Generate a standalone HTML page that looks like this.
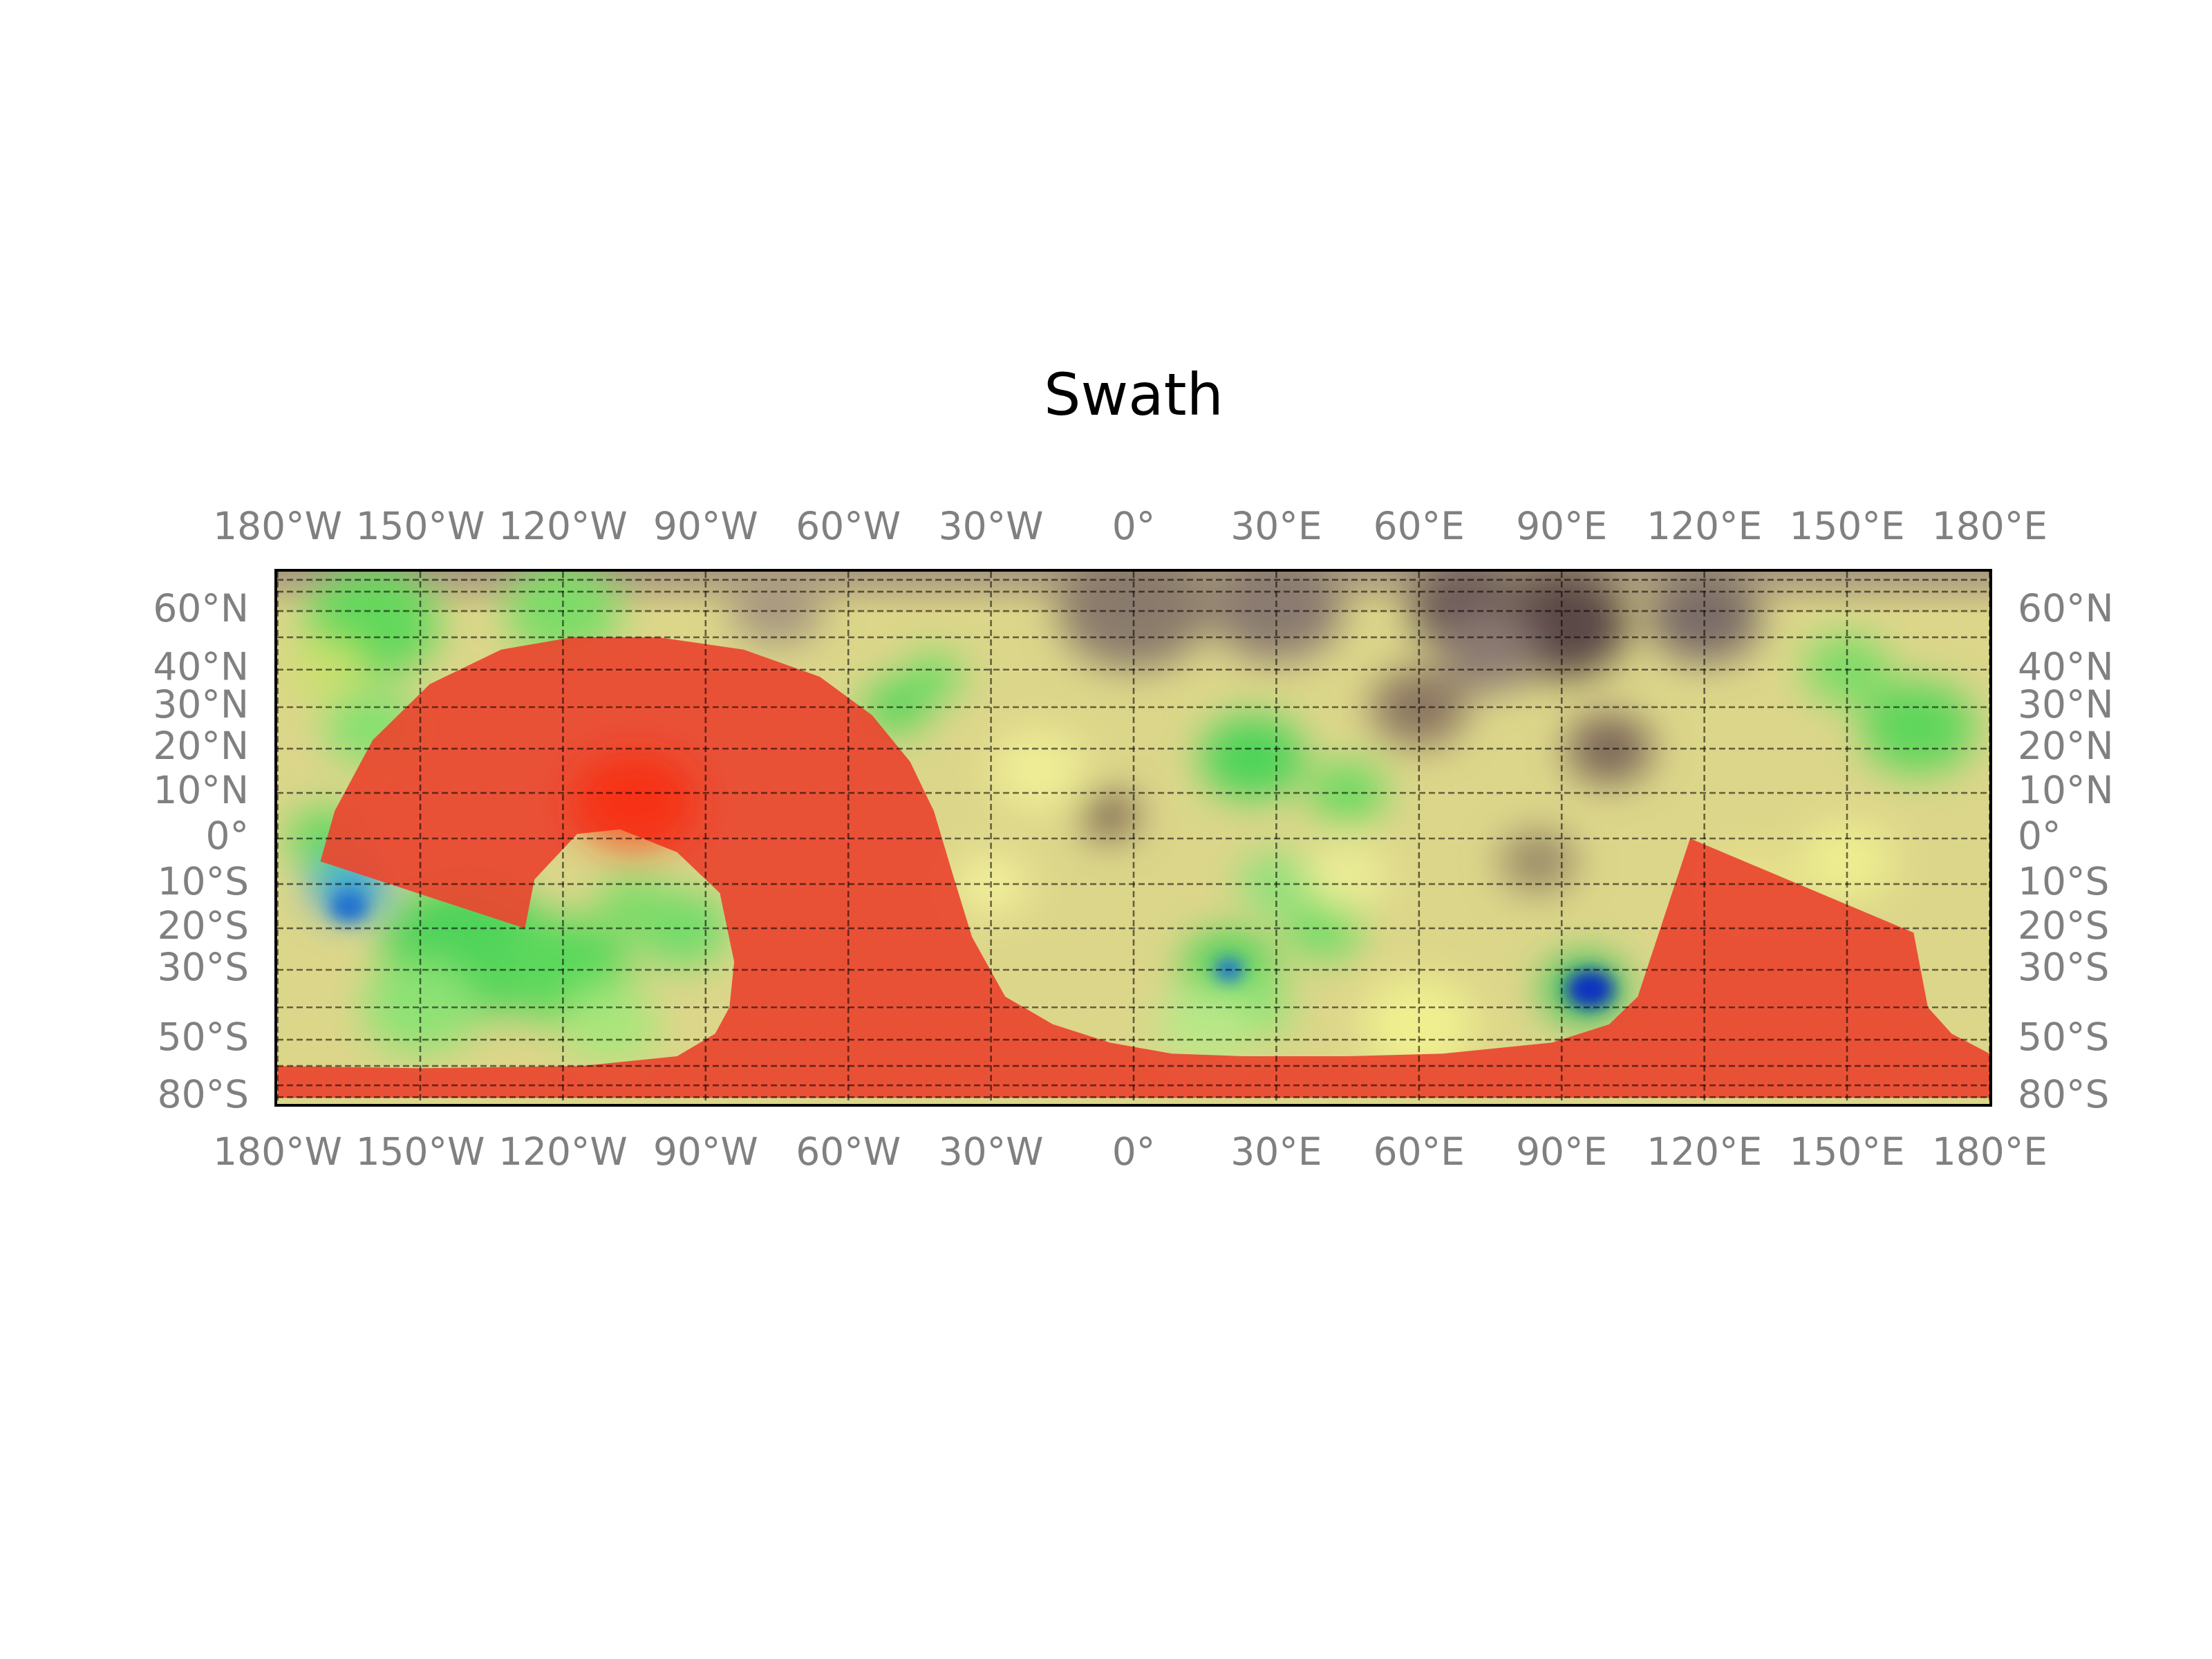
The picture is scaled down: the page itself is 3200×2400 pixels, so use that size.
<!DOCTYPE html>
<html><head><meta charset="utf-8"><style>
html,body{margin:0;padding:0;background:#fff;}
svg{display:block;}
text{font-family:"DejaVu Sans","Liberation Sans",sans-serif;}
</style></head><body>
<svg id="fig" width="3200" height="2400" viewBox="0 0 3200 2400">
<defs>
<clipPath id="plotclip"><rect x="401" y="827" width="2477" height="770"/></clipPath>
<filter id="blur" x="-50%" y="-50%" width="200%" height="200%"><feGaussianBlur stdDeviation="28"/></filter>
<filter id="blur2" x="-50%" y="-50%" width="200%" height="200%"><feGaussianBlur stdDeviation="12"/></filter>
<linearGradient id="northg" x1="0" y1="0" x2="0" y2="1">
<stop offset="0" stop-color="#a89a80"/><stop offset="1" stop-color="#d8cf85"/></linearGradient>
</defs>
<rect width="3200" height="2400" fill="#fff"/>
<text x="1640" y="600" font-size="84" text-anchor="middle" fill="#000">Swath</text>
<g clip-path="url(#plotclip)">
<rect x="401" y="827" width="2477" height="770" fill="#dcd68a"/>
<rect x="401" y="827" width="2477" height="60" fill="url(#northg)"/>
<g id="terrain" filter="url(#blur)"></g>
<g id="terrain2" filter="url(#blur2)"></g>
<g id="swath"></g>
<g id="grid"></g>
</g>
<rect x="399" y="825" width="2481" height="774" fill="none" stroke="#000" stroke-width="4"/>
<g id="labels"></g>
</svg>
<script>
// Swath boundary (lon, lat)
const swathLon = [-180,-180,-150,-116,-96,-88,-85,-84,-87,-96,-108,-117,-126,-128,-171,-168,-160,-148,-133,-118,-100,-82,-66,-55,-47,-42,-38,-34,-27,-17,-5,8,23,45,65,88,100,106,117,164,167,172,180,180];
const swathLat = [-81,-60,-61,-60,-56,-48,-40,-28,-12,-3,2,1,-9,-20,-5,6,22,36,46,50,50,46,38,28,17,6,-8,-22,-37,-45,-51,-55,-56,-56,-55,-51,-45,-37,0,-21,-40,-48,-55,-81];
// Terrain colour patches: lon, lat, radius (deg), colour
const blobLon = [-160,-120,-140,-165,-120,-95,-160,-50,-42,25,45,20,40,95,165,150,30,90,70,60,100,-5,0,85,25,-170,-170,120,-75,-150,-110,-105,30,60,-20,150,130,45,-30,15,75];
const blobLat = [55,60,-25,-10,-30,-20,25,30,38,18,10,-30,-20,-35,25,40,-10,55,62,30,20,5,62,-5,-40,0,40,58,62,-40,-45,-15,62,-45,15,-5,-10,-8,-10,-45,45];
const blobR   = [14,12,18,8,14,10,10,7,6,11,8,10,8,9,12,9,8,14,12,10,9,6,16,8,8,8,8,12,10,12,10,8,14,12,10,10,9,9,8,10,10];
const blobCol = ['#62d85c','#7ddc68','#4fd35a','#2fa0e0','#5cd85c','#72dc6a','#86e070','#5bd65c','#6ddc64','#4ed458','#6bda60','#4fd358','#70db66','#3ac25a','#5fd65c','#7bdc66','#8fe07a','#5a4646','#6c5a58','#8a7460','#7c6658','#7a6450','#8a7a6c','#9a8a68','#8ee274','#66d860','#cbe070','#7c6c68','#a89880','#8ee274','#a8e67c','#7ddc68','#8a7a70','#f0f090','#f0ee96','#eeee90','#e8e28a','#ecec96','#f2ef9a','#b8e888','#8c7a72'];
const darkLon = [96,20,-165];
const darkLat = [-35,-30,-15];
const darkR = [5,3,4];
const darkCol = ['#1030c0','#1a70d0','#1f70d0'];

const X = lon => 1640 + lon * 6.88;
const Y = lat => 1213 - 380 * Math.sin(lat * Math.PI / 180);
const NS = 'http://www.w3.org/2000/svg';
function mk(tag, attrs, parent){ const e=document.createElementNS(NS,tag); for(const k in attrs) e.setAttribute(k,attrs[k]); parent.appendChild(e); return e; }

const terr = document.getElementById('terrain');
for(let i=0;i<blobLon.length;i++){
  const e = mk('ellipse',{cx:X(blobLon[i]),cy:Y(blobLat[i]),rx:blobR[i]*6.88,ry:blobR[i]*5.6,fill:blobCol[i]},terr);
  
  
}
const terr2 = document.getElementById('terrain2');
for(let i=0;i<darkLon.length;i++){
  const e = mk('ellipse',{cx:X(darkLon[i]),cy:Y(darkLat[i]),rx:darkR[i]*6.88,ry:darkR[i]*5.6,fill:darkCol[i]},terr2);
  
  
}

const sw = document.getElementById('swath');
let d = '';
for(let i=0;i<swathLon.length;i++) d += (i?'L':'M') + X(swathLon[i]).toFixed(1) + ',' + Y(swathLat[i]).toFixed(1);
d += 'Z';
const poly = mk('path',{d:d,fill:'#e9472f','fill-opacity':'0.93','stroke-linejoin':'round'},sw);


const spot = mk('ellipse',{cx:X(-105),cy:Y(8),rx:90,ry:70,fill:'#ff1a00',opacity:'0.6',filter:'url(#blur)'},sw);



// Grid
const gridLons = [-180,-150,-120,-90,-60,-30,0,30,60,90,120,150,180];
const gridLats = [80,70,60,50,40,30,20,10,0,-10,-20,-30,-40,-50,-60,-70,-80];
const g = document.getElementById('grid');
gridLons.forEach(lon=>{
  const l = mk('line',{x1:X(lon),x2:X(lon),y1:827,y2:1597,stroke:'#000','stroke-opacity':'0.55','stroke-width':'2.6','stroke-dasharray':'9 5'},g);
  
  
});
gridLats.forEach(lat=>{
  const l = mk('line',{x1:401,x2:2878,y1:Y(lat),y2:Y(lat),stroke:'#000','stroke-opacity':'0.55','stroke-width':'2.6','stroke-dasharray':'9 5'},g);
  
  
});

// Labels
const lonLabels = ['180°W','150°W','120°W','90°W','60°W','30°W','0°','30°E','60°E','90°E','120°E','150°E','180°E'];
const latTickVals = [60,40,30,20,10,0,-10,-20,-30,-50,-80];
const latLabels = ['60°N','40°N','30°N','20°N','10°N','0°','10°S','20°S','30°S','50°S','80°S'];
const lg = document.getElementById('labels');
gridLons.forEach((lon,i)=>{
  [780,1685].forEach((yy,j)=>{
    const t = mk('text',{x:X(lon),y:yy,'font-size':'55','text-anchor':'middle',fill:'#808080'},lg);
    t.textContent = lonLabels[i];
    
    
  });
});
latTickVals.forEach((lat,i)=>{
  const yy = Math.min(Y(lat),1590) + 15;
  const t1 = mk('text',{x:360,y:yy,'font-size':'55','text-anchor':'end',fill:'#808080'},lg);
  t1.textContent = latLabels[i];
  
  
  const t2 = mk('text',{x:2919,y:yy,'font-size':'55','text-anchor':'start',fill:'#808080'},lg);
  t2.textContent = latLabels[i];
  
  
});
</script>
</body></html>
